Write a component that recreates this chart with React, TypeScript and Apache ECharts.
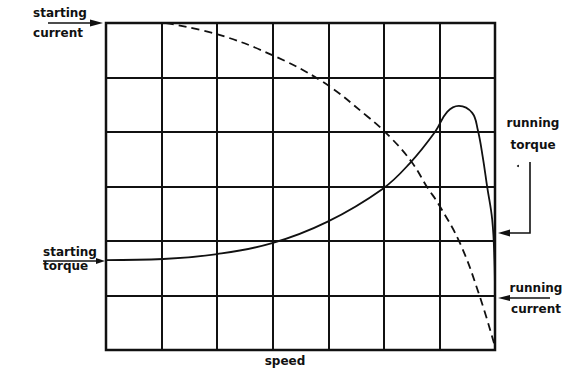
import React, { useEffect, useRef } from "react";
import * as echarts from "echarts";

// speed axis: 0..7 grid columns, value axis: 0..6 grid rows
const xTicks = [0, 1, 2, 3, 4, 5, 6, 7];
const yTicks = [0, 1, 2, 3, 4, 5, 6];

// torque curve (solid) [speed, value]
const torqueSpeed = [0, 1.03, 2.0, 2.99, 3.98, 4.97, 5.47, 5.92, 6.14, 6.35, 6.59, 6.69, 6.78, 6.86, 6.95, 6.99, 7.0];
const torqueValue = [1.65, 1.67, 1.76, 1.96, 2.35, 2.95, 3.43, 4.0, 4.37, 4.48, 4.35, 4.04, 3.54, 2.99, 2.39, 1.65, 0.95];

// current curve (dashed)
const currentSpeed = [1.08, 1.98, 2.95, 3.9, 4.71, 5.11, 5.5, 5.79, 5.97, 6.37, 6.73, 7.0];
const currentValue = [6.0, 5.8, 5.43, 4.92, 4.28, 3.91, 3.45, 2.97, 2.7, 1.96, 0.97, 0.06];

const labels = {
  startingCurrent: ["starting", "current"],
  startingTorque: ["starting", "torque"],
  runningTorque: ["running", "torque"],
  runningCurrent: ["running", "current"],
  xName: "speed",
};

const INK = "#111";
const FONT = 'bold 12px "DejaVu Sans"';

export default function App() {
  const ref = useRef<HTMLDivElement>(null);
  useEffect(() => {
    if (!ref.current) return;
    const chart = echarts.init(ref.current, null, { renderer: "svg" });
    const txt = (text: string, x: number, y: number, align: string) => ({
      type: "text",
      x,
      y,
      style: { text, font: FONT, fill: INK, textAlign: align, textVerticalAlign: "middle" },
    });
    const arrowL = { stroke: INK, lineWidth: 1.6 };
    chart.setOption({
      animation: false,
      backgroundColor: "#fff",
      grid: { left: 106, top: 23, right: 77, bottom: 23, show: true, borderColor: INK, borderWidth: 2.5, backgroundColor: "transparent" },
      xAxis: {
        type: "value",
        min: xTicks[0],
        max: xTicks[xTicks.length - 1],
        interval: 1,
        axisLine: { show: false },
        axisTick: { show: false },
        axisLabel: { show: false },
        splitLine: { show: true, lineStyle: { color: INK, width: 2 } },
      },
      yAxis: {
        type: "value",
        min: yTicks[0],
        max: yTicks[yTicks.length - 1],
        interval: 1,
        axisLine: { show: false },
        axisTick: { show: false },
        axisLabel: { show: false },
        splitLine: { show: true, lineStyle: { color: INK, width: 2 } },
      },
      series: [
        {
          type: "line",
          data: torqueSpeed.map((s, i) => [s, torqueValue[i]]),
          smooth: 0.4,
          showSymbol: false,
          lineStyle: { color: INK, width: 1.8 },
        },
        {
          type: "line",
          data: currentSpeed.map((s, i) => [s, currentValue[i]]),
          smooth: 0.4,
          showSymbol: false,
          lineStyle: { color: INK, width: 1.8, type: [8, 5] },
        },
      ],
      graphic: [
        txt(labels.startingCurrent[0], 60, 13, "center"),
        txt(labels.startingCurrent[1], 58, 33, "center"),
        txt(labels.startingTorque[0], 43, 252, "left"),
        txt(labels.startingTorque[1], 43, 266, "left"),
        txt(labels.runningTorque[0], 533, 123, "center"),
        txt(labels.runningTorque[1], 533, 145, "center"),
        txt(labels.runningCurrent[0], 536, 288, "center"),
        txt(labels.runningCurrent[1], 536, 309, "center"),
        txt(labels.xName, 285, 361, "center"),
        { type: "line", shape: { x1: 48, y1: 23, x2: 92, y2: 23 }, style: arrowL },
        { type: "polygon", shape: { points: [[90, 19.5], [103, 23], [90, 26.5]] }, style: { fill: INK } },
        { type: "line", shape: { x1: 43, y1: 261, x2: 98, y2: 261 }, style: arrowL },
        { type: "polygon", shape: { points: [[96, 258], [105, 261], [96, 264]] }, style: { fill: INK } },
        { type: "polyline", shape: { points: [[530, 162], [530, 233], [508, 233]] }, style: { stroke: INK, lineWidth: 1.6, fill: null } },
        { type: "polygon", shape: { points: [[510, 229.5], [498, 233], [510, 236.5]] }, style: { fill: INK } },
        { type: "circle", shape: { cx: 518, cy: 166, r: 1 }, style: { fill: INK } },
        { type: "line", shape: { x1: 508, y1: 298, x2: 550, y2: 298 }, style: arrowL },
        { type: "polygon", shape: { points: [[510, 295], [498, 298], [510, 301]] }, style: { fill: INK } },
      ],
    });
    return () => chart.dispose();
  }, []);
  return <div ref={ref} style={{ position: "fixed", left: 0, top: 0, width: 572, height: 373, background: "#fff" }} />;
}
